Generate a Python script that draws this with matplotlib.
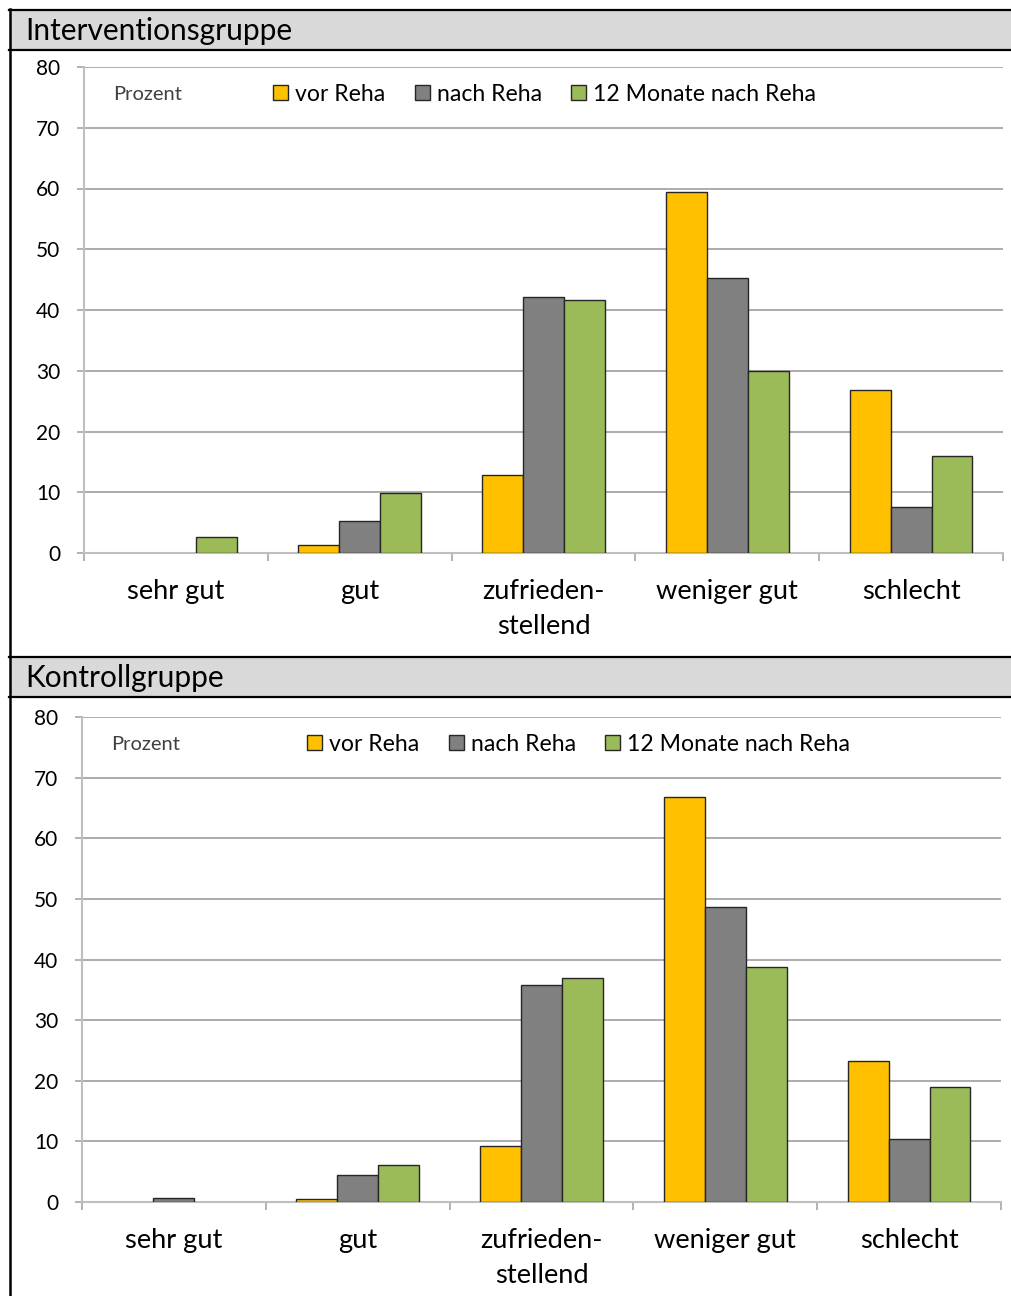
import matplotlib
matplotlib.use("Agg")
import matplotlib.pyplot as plt
from matplotlib.patches import Rectangle, Patch
from matplotlib.lines import Line2D
import numpy as np

plt.rcParams['font.family'] = ['Lato', 'DejaVu Sans']

# Daten (Prozent)
kategorien = ["sehr gut", "gut", "zufrieden-\nstellend", "weniger gut", "schlecht"]
serien = ["vor Reha", "nach Reha", "12 Monate nach Reha"]
farben = ["#FFC000", "#808080", "#9BBB59"]

intervention_vor = [0.0, 1.3, 12.8, 59.4, 26.8]
intervention_nach = [0.0, 5.2, 42.2, 45.3, 7.5]
intervention_12m = [2.6, 9.9, 41.7, 30.0, 16.0]

kontrolle_vor = [0.0, 0.5, 9.3, 66.8, 23.3]
kontrolle_nach = [0.7, 4.4, 35.8, 48.6, 10.4]
kontrolle_12m = [0.0, 6.1, 36.9, 38.7, 18.9]

W, H = 1011, 1296
fig = plt.figure(figsize=(W / 100, H / 100), dpi=100)


def fx(px):
    return px / W


def fy(py):
    return 1 - py / H


def kopf(y_oben, y_unten, titel):
    # grauer Kopfbalken mit schwarzen Linien
    fig.patches.append(Rectangle((fx(10), fy(y_unten)), fx(W - 10), fy(y_oben) - fy(y_unten),
                                 transform=fig.transFigure, facecolor="#D9D9D9",
                                 edgecolor="none", zorder=0))
    for y in (y_oben, y_unten):
        fig.lines.append(Line2D([fx(9), 1], [fy(y), fy(y)], transform=fig.transFigure,
                                color="black", linewidth=1.6))
    fig.text(fx(25), fy((y_oben + y_unten) / 2 + 1), titel, ha="left", va="center",
             fontsize=21.5, color="black")


def panel(rect, werte, leg_x):
    ax = fig.add_axes(rect)
    x = np.arange(len(kategorien))
    bw = 0.222
    for i, (vals, col) in enumerate(zip(werte, farben)):
        bars = ax.bar(x + (i - 1) * bw, vals, bw, color=col, edgecolor="#262626",
                      linewidth=1.0, zorder=3)
        # Balken mit Wert 0 bleiben unsichtbar
        for b, v in zip(bars, vals):
            if v == 0:
                b.set_visible(False)
    ax.set_xlim(-0.5, len(kategorien) - 0.5)
    ax.set_ylim(0, 80)
    ax.set_yticks(np.arange(0, 81, 10))
    ax.yaxis.grid(True, color="#A6A6A6", linewidth=1.3, zorder=0)
    ax.set_axisbelow(True)
    ax.set_xticks(x)
    ax.set_xticklabels(kategorien, fontsize=19.6, linespacing=1.5)
    ax.set_xticks(np.arange(-0.5, len(kategorien)), minor=True)
    ax.tick_params(axis="x", which="major", length=0, pad=19)
    ax.tick_params(axis="x", which="minor", length=6, color="#A6A6A6", width=1.2)
    ax.tick_params(axis="y", length=5, color="#A6A6A6", width=1.2, pad=12, labelsize=15)
    for s in ("top", "right"):
        ax.spines[s].set_visible(False)
    for s in ("left", "bottom"):
        ax.spines[s].set_color("#BFBFBF")
        ax.spines[s].set_linewidth(1.5)
    ax.text(0.0316, 0.944, "Prozent", transform=ax.transAxes, ha="left", va="center",
            fontsize=14.5, color="#404040")
    handles = [Patch(facecolor=c, edgecolor="#262626", linewidth=1.0) for c in farben]
    ax.legend(handles, serien, loc="center left", bbox_to_anchor=(leg_x, 0.944), ncol=3,
              frameon=False, fontsize=16.6, handlelength=0.65, handleheight=0.65,
              handletextpad=0.3, columnspacing=1.28, borderpad=0, borderaxespad=0)
    return ax


kopf(10, 50, "Interventionsgruppe")
kopf(657, 697, "Kontrollgruppe")
# linker Rahmen
fig.lines.append(Line2D([fx(10), fx(10)], [fy(9), 0], transform=fig.transFigure,
                        color="black", linewidth=1.8))

panel([fx(84), fy(553), fx(919), fy(67) - fy(553)],
      [intervention_vor, intervention_nach, intervention_12m], (273 - 84) / 919)
panel([fx(82), fy(1202), fx(919), fy(717) - fy(1202)],
      [kontrolle_vor, kontrolle_nach, kontrolle_12m], (307 - 82) / 919)

fig.savefig("out.png", dpi=100)
